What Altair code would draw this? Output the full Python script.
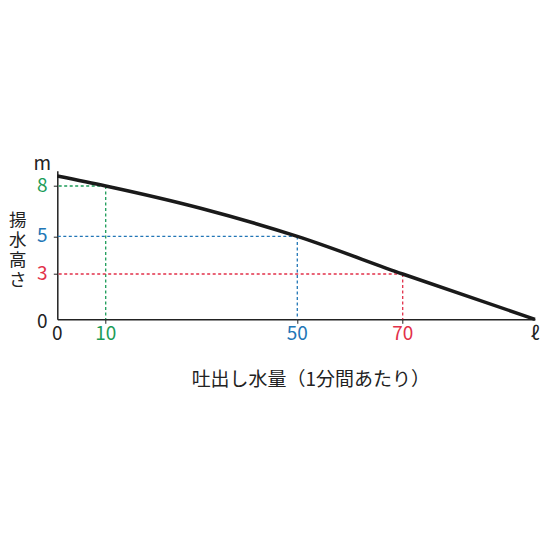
import altair as alt
import pandas as pd

# curve (discharge per minute vs head)
curve_q = [0, 10, 30, 50, 70, 90]
curve_h = [8.65, 8, 6.66, 5, 3, 0]

# reference points
ref_q = ["10", "50", "70"]
ref_qv = [10, 50, 70]
ref_h = [8, 5, 3]

# tick labels
x_vals = [0, 10, 50, 70, 90]
x_text = ["0", "10", "50", "70", "ℓ"]
y_vals = [0, 3, 5, 8, 9]
y_text = ["0", "3", "5", "8", "m"]

x_title = "吐出し水量（1分間あたり）"
y_title = ["揚", "水", "高", "さ"]

FONT = "Noto Sans CJK JP"
W, H = 478, 148.6

xscale = alt.Scale(domain=[0, 10, 50, 70, 90], range=[0, 48.4, 240, 345.4, 477.7], nice=False, zero=False)
yscale = alt.Scale(domain=[0, 3, 5, 8, 9], range=[148.6, 103.3, 65.7, 15.3, 0], nice=False, zero=False)

col_dom = ["0", "3", "5", "8", "m", "10", "50", "70", "ℓ"]
col_rng = ["#222222", "#e2304a", "#2276b6", "#1c9c58", "#222222", "#1c9c58", "#2276b6", "#e2304a", "#222222"]
cscale = alt.Scale(domain=col_dom, range=col_rng)

curve_df = pd.DataFrame({"q": curve_q, "h": curve_h})
ref_df = pd.DataFrame({"key": ref_q, "q": ref_qv, "h": ref_h})
xl_df = pd.DataFrame({"v": x_vals, "t": x_text})
yl_df = pd.DataFrame({"v": y_vals, "t": y_text})

curve = alt.Chart(curve_df).mark_line(color="#1a1a1a", strokeWidth=3.5, interpolate="monotone").encode(
    x=alt.X("q:Q", scale=xscale, axis=alt.Axis(values=[10, 50, 70], labels=False, ticks=True, tickSize=4,
                                               tickColor="#222", domainColor="#222", domainWidth=1.5, grid=False,
                                               title=x_title, titleFont=FONT, titleFontSize=19, titleFontWeight="normal",
                                               titleColor="#222", titleX=253, titleY=60, titleBaseline="middle",
                                               titleAnchor="middle", titleAlign="center")),
    y=alt.Y("h:Q", scale=yscale, axis=alt.Axis(values=[3, 5, 8], labels=False, ticks=True, tickSize=4,
                                               tickColor="#222", domainColor="#222", domainWidth=1.5, grid=False,
                                               title=y_title, titleFont=FONT, titleFontSize=17.5, titleFontWeight="normal",
                                               titleColor="#222", titleAngle=0, titleX=-40, titleY=50,
                                               titleBaseline="middle", titleAlign="center", titleLineHeight=20)),
)

vrule = alt.Chart(ref_df).mark_rule(strokeDash=[3, 2.5], strokeWidth=1.3).encode(
    x=alt.X("q:Q", scale=xscale),
    y=alt.Y("h:Q", scale=yscale),
    y2=alt.Y2Datum(0),
    color=alt.Color("key:N", scale=cscale, legend=None),
)
hrule = alt.Chart(ref_df).mark_rule(strokeDash=[3, 2.5], strokeWidth=1.3).encode(
    x=alt.X("q:Q", scale=xscale),
    x2=alt.X2Datum(0),
    y=alt.Y("h:Q", scale=yscale),
    color=alt.Color("key:N", scale=cscale, legend=None),
)

xlab = alt.Chart(xl_df).mark_text(font=FONT, fontSize=19, baseline="middle", align="center").encode(
    x=alt.X("v:Q", scale=xscale),
    y=alt.value(H + 15),
    text="t:N",
    color=alt.Color("t:N", scale=cscale, legend=None),
)


def ylayer(flt, dy):
    return alt.Chart(yl_df).transform_filter(flt).mark_text(
        font=FONT, fontSize=19, baseline="middle", align="center", dy=dy
    ).encode(
        x=alt.value(-15),
        y=alt.Y("v:Q", scale=yscale),
        text="t:N",
        color=alt.Color("t:N", scale=cscale, legend=None),
    )


ylab_mid = ylayer("datum.t != 'm' && datum.t != '0'", 0)
ylab_m = ylayer("datum.t == 'm'", -7)
ylab_0 = ylayer("datum.t == '0'", 3)

chart = alt.layer(vrule, hrule, curve, xlab, ylab_mid, ylab_m, ylab_0).properties(
    width=W, height=H,
    autosize=alt.AutoSizeParams(type="none"),
    padding={"left": 49.3, "top": 162.7, "right": 10, "bottom": 120},
    background="white",
).configure_view(stroke=None)

chart.save("out.html", embed_options={"renderer": "svg", "actions": False})
